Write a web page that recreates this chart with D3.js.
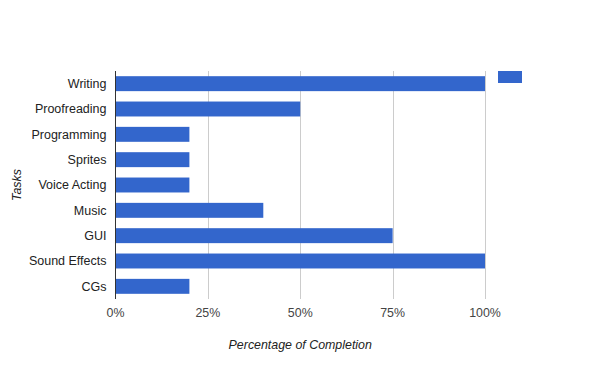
<!DOCTYPE html>
<html>
<head>
<meta charset="utf-8">
<script src="https://cdn.jsdelivr.net/npm/d3@7"></script>
<style>
  body { margin: 0; background: #fff; }
  text { font-family: Arial, "Liberation Sans", sans-serif; }
</style>
</head>
<body>
<script>
const tasks = ['Writing', 'Proofreading', 'Programming', 'Sprites', 'Voice Acting', 'Music', 'GUI', 'Sound Effects', 'CGs']
const completion = [100, 50, 20, 20, 20, 40, 75, 100, 20]
const xTicks = [0, 25, 50, 75, 100]

const w = 600
const h = 371
const plotLeft = 115.5
const plotRight = 485
const plotTop = 71
const plotBottom = 299

const data = tasks.map((t, i) => ({ task: t, value: completion[i] }))

const xScale = d3.scaleLinear()
  .domain([0, 100])
  .range([plotLeft, plotRight])

const yScale = d3.scaleBand()
  .domain(tasks)
  .range([plotTop, plotBottom])
  .paddingInner(0.41)
  .paddingOuter(0.205)

const svg = d3.select('body')
  .append('svg')
  .attr('width', w)
  .attr('height', h)

// gridlines
svg.append('g')
  .selectAll('line')
  .data(xTicks.filter(d => d > 0))
  .enter()
  .append('line')
  .attr('x1', d => Math.round(xScale(d)) + 0.5)
  .attr('x2', d => Math.round(xScale(d)) + 0.5)
  .attr('y1', plotTop)
  .attr('y2', plotBottom)
  .attr('stroke', '#cccccc')

svg.selectAll('rect.bar')
  .data(data)
  .enter()
  .append('rect')
  .attr('class', 'bar')
  .attr('x', xScale(0))
  .attr('y', d => yScale(d.task))
  .attr('width', d => xScale(d.value) - xScale(0))
  .attr('height', yScale.bandwidth())
  .attr('fill', '#3366cc')

// y axis line
svg.append('line')
  .attr('x1', plotLeft)
  .attr('x2', plotLeft)
  .attr('y1', plotTop)
  .attr('y2', plotBottom)
  .attr('stroke', '#333333')

// category labels
svg.append('g')
  .selectAll('text')
  .data(tasks)
  .enter()
  .append('text')
  .attr('x', plotLeft - 9)
  .attr('y', d => yScale(d) + yScale.bandwidth() / 2)
  .attr('dy', '0.35em')
  .attr('text-anchor', 'end')
  .attr('font-size', 12.5)
  .attr('fill', '#222222')
  .text(d => d)

// x tick labels
svg.append('g')
  .selectAll('text')
  .data(xTicks)
  .enter()
  .append('text')
  .attr('x', d => xScale(d))
  .attr('y', 317)
  .attr('text-anchor', 'middle')
  .attr('font-size', 12.4)
  .attr('fill', '#444444')
  .text(d => d + '%')

// axis titles
svg.append('text')
  .attr('x', (plotLeft + plotRight) / 2)
  .attr('y', 349)
  .attr('text-anchor', 'middle')
  .attr('font-size', 12.4)
  .attr('font-style', 'italic')
  .attr('fill', '#222222')
  .text('Percentage of Completion')

svg.append('text')
  .attr('transform', `translate(21, ${(plotTop + plotBottom) / 2}) rotate(-90)`)
  .attr('text-anchor', 'middle')
  .attr('font-size', 12.4)
  .attr('font-style', 'italic')
  .attr('fill', '#222222')
  .text('Tasks')

// legend swatch (no label)
svg.append('rect')
  .attr('x', 498)
  .attr('y', 71)
  .attr('width', 24)
  .attr('height', 12)
  .attr('fill', '#3366cc')
</script>
</body>
</html>
